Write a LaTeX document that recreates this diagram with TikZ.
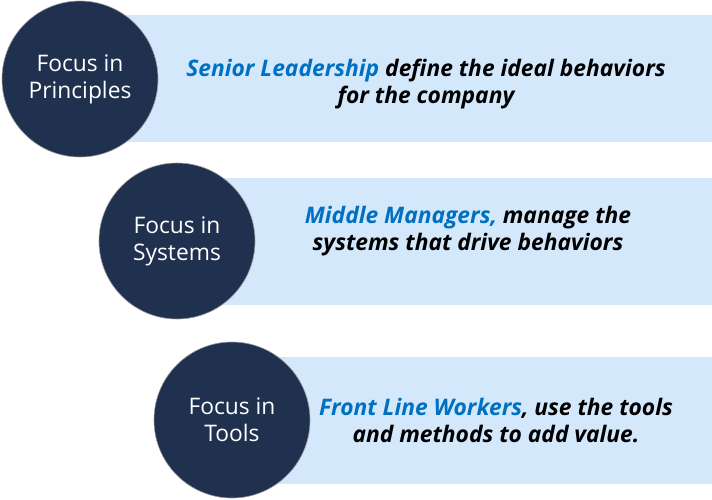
\documentclass[tikz,border=0pt]{standalone}
\usepackage{fontspec}
\setmainfont{Open Sans}
\usetikzlibrary{positioning}
\definecolor{focusNavy}{HTML}{20304F}
\definecolor{focusBand}{HTML}{D4E8FC}
\definecolor{focusBlue}{HTML}{0070C0}

\begin{document}
\begin{tikzpicture}[x=1pt,y=-1pt,line cap=round,line join=round]
\useasboundingbox (0,0) rectangle (712,499);
\tikzset{band/.style={fill=focusBand},disc/.style={circle,fill=focusNavy,draw=black!40,line width=0.6pt,minimum size=156pt,inner sep=0pt,text=white,font=\fontsize{22.8}{27}\selectfont,align=center},say/.style={font=\bfseries\itshape\fontsize{22.8}{27}\selectfont,align=center,text=black}}
\path[band] (80,15) rectangle (712,142);
\path[band] (177,178) rectangle (712,305);
\path[band] (232,357) rectangle (712,484);
\node[disc] (principles) at (80,79) {Focus in\\Principles};
\node[disc] (systems) at (177,241) {Focus in\\Systems};
\node[disc] (tools) at (232,420) {Focus in\\Tools};
\node[say] (leaders) at (426,84) {\textcolor{focusBlue}{Senior Leadership} define the ideal behaviors\\for the company};
\node[say] (managers) at (468,231) {\textcolor{focusBlue}{Middle Managers,} manage the\\systems that drive behaviors};
\node[say] (workers) at (496,420) {\textcolor{focusBlue}{Front Line Workers}, use the tools\\and methods to add value.};
\end{tikzpicture}
\end{document}
